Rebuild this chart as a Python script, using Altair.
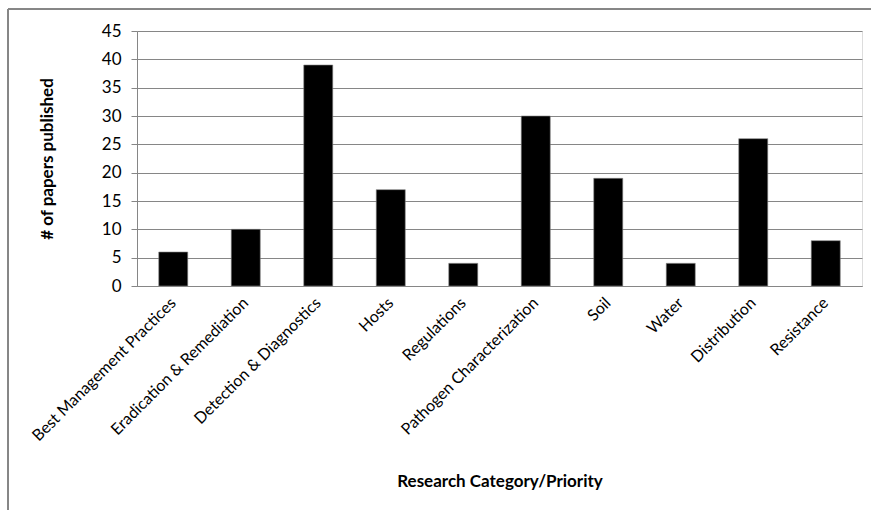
import altair as alt
import pandas as pd

categories = [
    "Best Management Practices",
    "Eradication & Remediation",
    "Detection & Diagnostics",
    "Hosts",
    "Regulations",
    "Pathogen Characterization",
    "Soil",
    "Water",
    "Distribution",
    "Resistance",
]
papers = [6, 10, 39, 17, 4, 30, 19, 4, 26, 8]

df = pd.DataFrame({"category": categories, "papers": papers})

FONT = "Lato"
GREY = "#868686"

bars = alt.Chart(df).mark_bar(color="black", stroke=GREY, strokeWidth=0.6).encode(
    x=alt.X(
        "category:N",
        sort=categories,
        scale=alt.Scale(paddingInner=0.6, paddingOuter=0.3),
        axis=alt.Axis(
            title="Research Category/Priority",
            labelAngle=315,
            labelAlign="right",
            labelBaseline="middle",
            labelPadding=14,
            labelFontSize=16,
            labelFont=FONT,
            labelColor="black",
            labelLimit=400,
            ticks=False,
            domainColor=GREY,
            titleFont=FONT,
            titleFontSize=17,
            titleFontWeight="bold",
            titleColor="black",
            titleY=195,
            titleBaseline="middle",
        ),
    ),
    y=alt.Y(
        "papers:Q",
        scale=alt.Scale(domain=[0, 45], nice=False),
        axis=alt.Axis(
            title="# of papers published",
            values=list(range(0, 46, 5)),
            labelFontSize=17,
            labelFont=FONT,
            labelColor="black",
            labelPadding=10,
            tickSize=6,
            tickColor=GREY,
            domainColor=GREY,
            gridColor=GREY,
            gridOpacity=1,
            titleFont=FONT,
            titleFontSize=17,
            titleFontWeight="bold",
            titleColor="black",
            titleX=-90,
            titleBaseline="middle",
        ),
    ),
)

border_top = alt.Chart(df).mark_rule(color=GREY, strokeWidth=1).encode(
    x=alt.value(-129), x2=alt.value(740), y=alt.value(-22)
)
border_left = alt.Chart(df).mark_rule(color=GREY, strokeWidth=1).encode(
    x=alt.value(-129), y=alt.value(-22), y2=alt.value(485)
)

chart = (
    alt.layer(border_top, border_left, bars)
    .properties(
        width=725,
        height=255,
        autosize=alt.AutoSizeParams(type="none"),
        padding={"left": 137, "top": 31, "right": 9, "bottom": 224},
    )
    .configure_view(stroke=None)
    .configure(background="white")
)

chart.save("out.html", embed_options={"renderer": "svg", "actions": False})
